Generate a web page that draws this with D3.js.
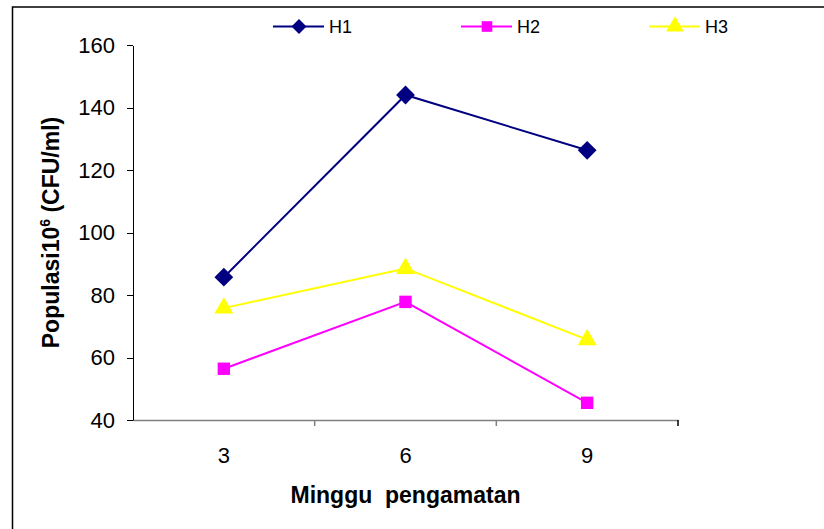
<!DOCTYPE html>
<html>
<head>
<meta charset="utf-8">
<script src="https://cdn.jsdelivr.net/npm/d3@7"></script>
<style>
	body { margin: 0; background: #fff; }
	svg { display: block; font-family: Arial, "Liberation Sans", Helvetica, sans-serif; }
</style>
</head>
<body>
<svg id="chart"></svg>
<script>

	// data
	var weeks = ['3', '6', '9'];
	var h1 = [85.7, 144, 126.3];
	var h2 = [56.4, 77.8, 45.5];
	var h3 = [75.8, 88.5, 65.7];
	var yTicks = [40, 60, 80, 100, 120, 140, 160];

	var series = [
		{ key: 'H1', values: h1, color: '#000080', symbol: d3.symbolDiamond2, size: 15, legendSize: 12 },
		{ key: 'H2', values: h2, color: '#ff00ff', symbol: d3.symbolSquare2, size: 14, legendSize: 12 },
		{ key: 'H3', values: h3, color: '#ffff00', symbol: d3.symbolTriangle2, size: 16, legendSize: 15 }
	];

	var width = 824,
		height = 529;

	var svg = d3.select('#chart')
		.attr('width', width)
		.attr('height', height);

	// outer frame (left and top edges only are visible)
	svg.append('path')
		.attr('d', 'M12.5,' + height + 'V7H' + width)
		.style('fill', 'none')
		.style('stroke', '#000')
		.style('stroke-width', 1.5);

	var x = d3.scaleBand()
		.domain(weeks)
		.range([133, 678]);

	var y = d3.scaleLinear()
		.domain([40, 160])
		.range([420, 45]);

	// y axis
	var yAxis = d3.axisLeft(y)
		.tickValues(yTicks)
		.tickSize(6)
		.tickSizeOuter(0)
		.tickPadding(12);

	var gy = svg.append('g')
		.attr('transform', 'translate(' + x.range()[0] + ',0)')
		.call(yAxis);

	gy.selectAll('path, line')
		.style('stroke', '#000')
		.style('stroke-width', 1)
		.style('shape-rendering', 'crispEdges');
	gy.selectAll('text')
		.style('font-size', '22px')
		.style('fill', '#000');

	// x axis: labels in band centres, ticks on band edges
	var xAxis = d3.axisBottom(x)
		.tickSize(0)
		.tickSizeOuter(0)
		.tickPadding(27);

	var gx = svg.append('g')
		.attr('transform', 'translate(0,' + y(40) + ')')
		.call(xAxis);

	gx.select('.domain')
		.style('stroke', '#808080')
		.style('stroke-width', 1.5);
	gx.selectAll('text')
		.style('font-size', '22px')
		.style('fill', '#000');

	gx.selectAll('line.edge')
		.data(weeks)
		.enter().append('line')
		.attr('class', 'edge')
		.attr('x1', function(d) { return x(d) + x.bandwidth(); })
		.attr('x2', function(d) { return x(d) + x.bandwidth(); })
		.attr('y1', 0)
		.attr('y2', 6)
		.style('stroke', function(d, i) { return i == weeks.length - 1 ? '#000' : '#808080'; })
		.style('stroke-width', 1.5);

	// axis titles
	svg.append('text')
		.attr('x', (x.range()[0] + x.range()[1]) / 2)
		.attr('y', 503)
		.attr('text-anchor', 'middle')
		.style('font-size', '23px')
		.style('font-weight', 'bold')
		.style('white-space', 'pre')
		.attr('xml:space', 'preserve')
		.text('Minggu  pengamatan');

	var yTitle = svg.append('text')
		.attr('transform', 'translate(58.5,' + ((y(40) + y(160)) / 2) + ') rotate(-90)')
		.attr('text-anchor', 'middle')
		.style('font-size', '23px')
		.style('font-weight', 'bold');
	yTitle.append('tspan').text('Populasi10');
	yTitle.append('tspan').attr('dy', -9).style('font-size', '14px').text('6');
	yTitle.append('tspan').attr('dy', 9).text(' (CFU/ml)');

	// lines and markers
	var line = d3.line()
		.x(function(d, i) { return x(weeks[i]) + x.bandwidth() / 2; })
		.y(function(d) { return y(d); });

	var flows = svg.selectAll('g.series')
		.data(series)
		.enter().append('g')
		.attr('class', 'series');

	flows.append('path')
		.attr('d', function(d) { return line(d.values); })
		.style('fill', 'none')
		.style('stroke', function(d) { return d.color; })
		.style('stroke-width', 2);

	flows.each(function(s) {
		d3.select(this).selectAll('path.marker')
			.data(s.values)
			.enter().append('path')
			.attr('class', 'marker')
			.attr('d', d3.symbol().type(s.symbol).size(s.size * s.size))
			.attr('transform', function(d, i) {
				return 'translate(' + (x(weeks[i]) + x.bandwidth() / 2) + ',' + y(d) + ')';
			})
			.style('fill', s.color);
	});

	// legend
	var legendX = [273, 461, 649];

	var legend = svg.selectAll('g.legend')
		.data(series)
		.enter().append('g')
		.attr('class', 'legend')
		.attr('transform', function(d, i) { return 'translate(' + legendX[i] + ',26.5)'; });

	legend.append('line')
		.attr('x1', 0)
		.attr('x2', 51)
		.style('stroke', function(d) { return d.color; })
		.style('stroke-width', 2);

	legend.append('path')
		.attr('d', function(d) { return d3.symbol().type(d.symbol).size(d.legendSize * d.legendSize)(); })
		.attr('transform', 'translate(26,0)')
		.style('fill', function(d) { return d.color; });

	legend.append('text')
		.attr('x', 56)
		.attr('y', 6.5)
		.style('font-size', '18px')
		.text(function(d) { return d.key; });

</script>
</body>
</html>
